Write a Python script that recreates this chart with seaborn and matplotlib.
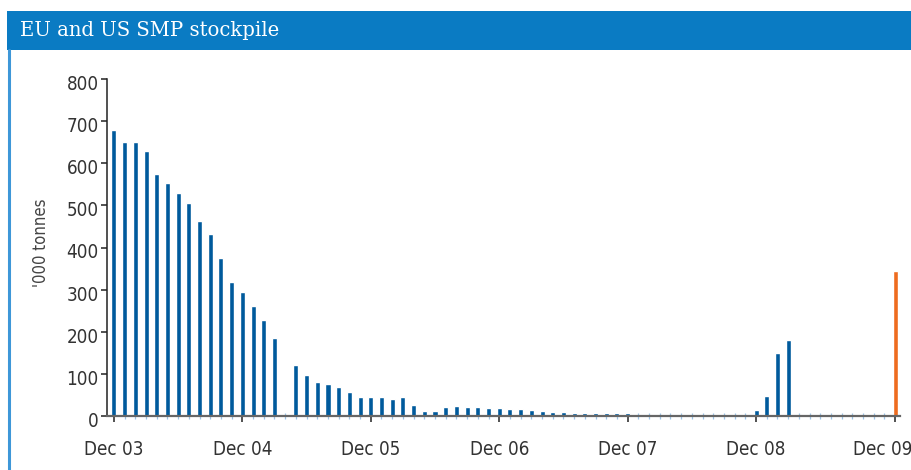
import matplotlib
matplotlib.use("Agg")
import matplotlib.pyplot as plt
from matplotlib import font_manager
from matplotlib.patches import Rectangle
from matplotlib.lines import Line2D
from matplotlib.ticker import MultipleLocator, FixedLocator
from matplotlib.transforms import ScaledTranslation
import seaborn as sns
import pandas as pd

# Monthly EU + US skimmed milk powder stocks, '000 tonnes (Dec 03 onwards).
# None marks months with no reported figure.
stock_history = [
    679, 651, 651, 630, 575, 552, 529, 505, 463, 433, 376, 319,   # Dec 03 - Nov 04
    294, 262, 227, 185, None, 122, 97, 81, 75, 70, 58, 46,        # Dec 04 - Nov 05
    44, 44, 40, 44, 25, 13, 13, 21, 23, 21, 21, 19,               # Dec 05 - Nov 06
    18, 17, 16, 14, 11, 10, 9, 6, 6, 6, 6, 6,                     # Dec 06 - Nov 07
    6, None, None, None, None, None, None, None, None, None, None, None,  # Dec 07 - Nov 08
    14, 48, 149, 181,                                             # Dec 08 - Mar 09
]
latest_label = "Dec 09"
latest_stock = 344

month_names = ["Dec", "Jan", "Feb", "Mar", "Apr", "May", "Jun",
               "Jul", "Aug", "Sep", "Oct", "Nov"]
tick_labels = ["Dec 03", "Dec 04", "Dec 05", "Dec 06", "Dec 07", "Dec 08", "Dec 09"]
y_ticks = [0, 100, 200, 300, 400, 500, 600, 700, 800]

# Monthly category axis Dec 03 ... Nov 09, then a spacer and the latest slot
slots = []
for i in range(72):
    yr = 3 + (i + 11) // 12
    slots.append(f"{month_names[i % 12]} {yr:02d}")
slots += [" ", latest_label]

rows = [(slots[i], v, "history") for i, v in enumerate(stock_history) if v is not None]
rows.append((latest_label, latest_stock, "latest"))
df = pd.DataFrame(rows, columns=["month", "stock", "series"])

sns.set_theme(style="white")

# Prefer a narrow sans face for the axis text
installed = {(f.name, f.stretch) for f in font_manager.fontManager.ttflist}
names = {n for n, _ in installed}
if "Liberation Sans Narrow" in names:
    plt.rcParams["font.family"] = ["Liberation Sans Narrow", "DejaVu Sans"]
elif ("DejaVu Sans", "condensed") in installed or ("DejaVu Sans", "semi-condensed") in installed:
    plt.rcParams["font.family"] = ["DejaVu Sans"]
    plt.rcParams["font.stretch"] = "condensed"
else:
    plt.rcParams["font.family"] = ["Liberation Sans", "DejaVu Sans"]

W, H = 912, 470
fig = plt.figure(figsize=(W / 100, H / 100), dpi=100)
fig.patch.set_facecolor("white")

# Panel header and frame
fig.patches.append(Rectangle((7 / W, 1 - 50 / H), 1 - 7 / W, 39 / H,
                             transform=fig.transFigure, facecolor="#0a7bc3",
                             edgecolor="none", zorder=0))
fig.lines.append(Line2D([9 / W, 9 / W], [0, 1 - 50 / H], transform=fig.transFigure,
                        color="#3e97d8", linewidth=2.2))
fig.text(20 / W, 1 - 31 / H, "EU and US SMP stockpile", color="white",
         fontsize=14.1, family="DejaVu Serif", stretch="normal",
         va="center", ha="left")

ax = fig.add_axes([107 / W, 1 - 416 / H, (900 - 107) / W, (416 - 79) / H])
sns.barplot(data=df, x="month", y="stock", hue="series", order=slots,
            palette={"history": "#005a9c", "latest": "#ee6c1f"},
            dodge=False, width=0.47, legend=False, ax=ax, saturation=1)

ax.set_xlim(-0.65, 73.45)
ax.set_ylim(0, 800)
ax.set_xlabel("")
ax.set_ylabel("'000 tonnes", fontsize=12, color="#444444")
ax.yaxis.set_label_coords(-0.072, 0.513)

for side in ("top", "right"):
    ax.spines[side].set_visible(False)
ax.spines["left"].set_color("#222222")
ax.spines["left"].set_linewidth(1.1)
ax.spines["bottom"].set_color("#666666")
ax.spines["bottom"].set_linewidth(1.6)

ax.yaxis.set_major_locator(FixedLocator(y_ticks))
ax.set_yticklabels([str(t) for t in y_ticks], fontsize=13.5, color="#333333")
ax.tick_params(axis="y", which="major", direction="out", length=4, width=1.1,
               color="#222222", pad=2, left=True)

major_pos = [slots.index(lbl) for lbl in tick_labels]
ax.set_xticks(major_pos)
ax.set_xticklabels(tick_labels, fontsize=13.5, color="#333333")
ax.xaxis.set_minor_locator(MultipleLocator(1))
ax.tick_params(axis="x", which="major", direction="out", length=4.5, width=1.2,
               color="#333333", pad=13, bottom=True)
ax.tick_params(axis="x", which="minor", direction="inout", length=4, width=0.9,
               color="#9cc3e6", bottom=True)

# Value labels sit slightly below their tick marks
shift = ScaledTranslation(0, -3.5 / 100, fig.dpi_scale_trans)
for lab in ax.get_yticklabels():
    lab.set_transform(lab.get_transform() + shift)

# Keep the last date label inside the panel edge
last = ax.get_xticklabels()[-1]
last.set_horizontalalignment("right")
last.set_transform(last.get_transform() + ScaledTranslation(17 / 100, 0, fig.dpi_scale_trans))

fig.savefig("out.png", dpi=100)
